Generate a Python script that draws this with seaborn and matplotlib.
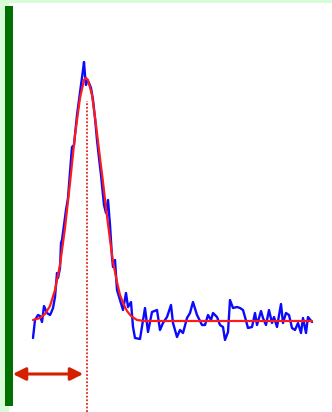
import matplotlib
matplotlib.use("Agg")
import matplotlib.pyplot as plt
from matplotlib.patches import Rectangle, FancyArrowPatch
import numpy as np
import pandas as pd
import seaborn as sns

# measured signal (channel, intensity above baseline)
signal_x = [33, 35, 38, 40, 42, 44, 47, 50, 51, 53, 55, 57, 58, 60, 61, 62, 64, 66, 68,
            70, 72, 74, 75, 77, 79, 81, 83, 84, 85, 86, 87, 89, 91, 93, 95, 97, 99, 101,
            103, 104, 106, 108, 110, 112, 113, 115, 117, 120, 123, 126, 128, 131, 133,
            135, 140, 145, 148, 152, 157, 160, 163, 167, 171, 173, 177, 180, 183, 187,
            190, 193, 197, 202, 205, 208, 211, 213, 217, 220, 223, 225, 228, 230, 233,
            237, 240, 243, 245, 248, 252, 255, 257, 261, 263, 266, 269, 272, 274, 277,
            281, 283, 286, 289, 292, 295, 298, 301, 303, 306, 308, 312]
signal_y = [-17, 1, 6, 5, -1, 15, 8, 6, 8, 13, 24, 48, 43, 53, 78, 81, 96, 111, 123,
            149, 174, 176, 186, 206, 221, 236, 251, 259, 246, 236, 241, 238, 233, 221,
            203, 181, 163, 146, 126, 116, 108, 121, 96, 64, 54, 61, 31, 21, 11, 28, 14,
            19, -6, -17, -18, 13, -11, 9, 11, -9, -2, 4, 16, -2, -16, -9, -12, 3, 8, 19,
            6, -4, -4, 6, 1, 8, 4, -4, -6, -19, -11, 21, 13, 14, 13, 11, 4, -7, -6, 8,
            -4, 10, 3, -4, 11, -2, 4, -6, 17, -2, 8, 6, -7, -9, -2, -12, 3, -12, 4, -1]

# fitted peak
fit_x = [33, 40, 45, 50, 55, 60, 65, 70, 75, 80, 84, 86, 88, 92, 96, 100, 103, 106,
         110, 113, 117, 120, 124, 127, 131, 137, 145, 200, 260, 312]
fit_y = [1, 3, 7, 15, 31, 56, 93, 138, 186, 223, 241, 243, 241, 226, 196, 163, 139,
         113, 81, 59, 39, 26, 16, 10, 5, 1, 0, 0, 0, 0]

peak_x = 87
arrow_start = 10

bg_green = "#d8fcd8"
bar_green = "#007000"

sns.set_style("white")
fig = plt.figure(figsize=(3.32, 4.12), dpi=100)
fig.patch.set_facecolor("white")
W, H = 332, 412

# frame decorations (figure coords)
fig.patches.append(Rectangle((0, 0), 9 / W, 1, transform=fig.transFigure,
                             facecolor=bg_green, edgecolor="none", zorder=0))
fig.patches.append(Rectangle((0, 1 - 3 / H), 1, 3 / H, transform=fig.transFigure,
                             facecolor=bg_green, edgecolor="none", zorder=0))
fig.patches.append(Rectangle((5 / W, 6 / H), 8 / W, 400 / H, transform=fig.transFigure,
                             facecolor=bar_green, edgecolor="none", zorder=1))

ax = fig.add_axes([0, 0, 1, 1])
ax.set_facecolor("none")
ax.set_xlim(0, 332)
ax.set_ylim(-91, 321)
ax.axis("off")

sig_df = pd.DataFrame({"x": signal_x, "y": signal_y})
fit_df = pd.DataFrame({"x": fit_x, "y": fit_y})

sns.lineplot(data=sig_df, x="x", y="y", ax=ax, color="#0a0aff", linewidth=1.7,
             estimator=None, sort=False, zorder=2)
sns.lineplot(data=fit_df, x="x", y="y", ax=ax, color="#ff1a1a", linewidth=1.6,
             estimator=None, sort=False, zorder=3)

ax.vlines(peak_x, -91, 220, colors="#e02818", linestyles=(0, (1, 1)), linewidth=1.3, zorder=3)

arr = FancyArrowPatch((arrow_start, -53), (peak_x - 1, -53), arrowstyle="<|-|>",
                      mutation_scale=19, color="#d42000", linewidth=2.2, zorder=5)
ax.add_patch(arr)

fig.savefig("out.png", dpi=100)
